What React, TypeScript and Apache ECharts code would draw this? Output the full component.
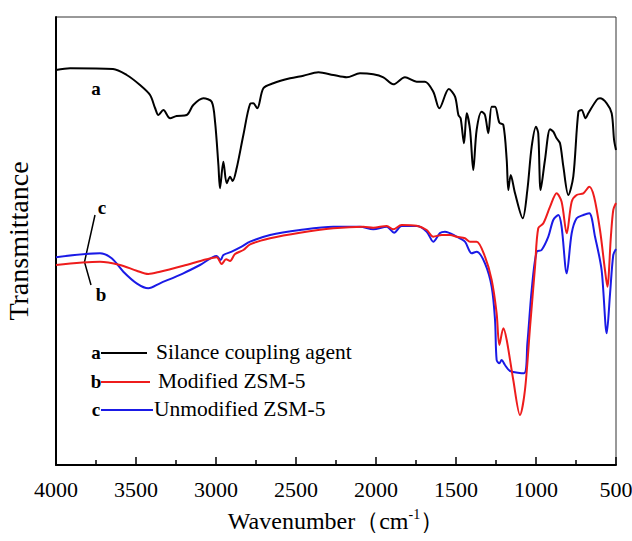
import React, { useEffect, useRef } from "react";
import * as echarts from "echarts";

// Wavenumber (cm-1) and transmittance (arbitrary units)
const aWavenumber = [4000, 3912, 3644, 3558, 3475, 3412, 3381, 3360, 3329, 3287, 3246, 3183, 3142, 3079, 3027, 3006, 2985, 2975, 2954, 2933, 2912, 2896, 2871, 2829, 2787, 2767, 2742, 2704, 2642, 2537, 2454, 2360, 2267, 2183, 2100, 2017, 1954, 1892, 1819, 1746, 1694, 1642, 1604, 1545, 1506, 1485, 1471, 1450, 1433, 1412, 1392, 1371, 1340, 1319, 1298, 1277, 1256, 1229, 1204, 1183, 1173, 1158, 1131, 1083, 1054, 1027, 1000, 986, 971, 944, 912, 892, 871, 850, 829, 798, 767, 735, 715, 690, 673, 621, 600, 558, 527, 512, 500];
const aTransmittance = [395, 396.7, 396, 390, 380, 370, 357, 350, 355, 346.7, 349, 350, 360, 366.7, 363.3, 343.3, 300, 276.7, 303.3, 281.7, 288.3, 284, 296.7, 330, 361, 361.7, 356.7, 376.7, 381.7, 386.7, 389.3, 392.7, 390, 387.7, 391.7, 390.7, 387.7, 380.7, 387.7, 383.3, 383.3, 373.3, 356.7, 376, 368.3, 350, 346.7, 321.7, 351.7, 335, 295, 335, 353.3, 350, 331.7, 358.3, 358.3, 342.3, 340, 305, 275, 290, 271.7, 246.7, 275, 318.3, 338.3, 331.7, 275, 305, 335.7, 333.3, 326.7, 321.7, 298.3, 270, 288.3, 353.3, 355, 346.7, 351.7, 365, 366.7, 361.7, 351.7, 325, 315];

const bWavenumber = [4000, 3725, 3600, 3496, 3423, 3350, 3204, 3058, 2996, 2965, 2937, 2912, 2881, 2829, 2787, 2662, 2475, 2267, 2079, 2017, 1933, 1892, 1840, 1746, 1683, 1642, 1589, 1537, 1496, 1444, 1412, 1371, 1319, 1277, 1246, 1229, 1204, 1183, 1142, 1100, 1069, 1037, 1006, 986, 954, 912, 871, 840, 808, 777, 746, 704, 667, 637, 600, 569, 554, 532, 517, 500];
const bTransmittance = [200, 203.3, 200, 194.3, 191, 193.3, 199.3, 205.7, 207.7, 201, 205.7, 204, 211, 215, 220.7, 226.7, 232.3, 236.7, 238.3, 237.3, 239, 235.7, 240, 239.3, 235, 228.3, 230, 230, 228.3, 226.7, 223.3, 223.3, 208.3, 185, 151.7, 120, 136.7, 125, 85, 50, 75, 138.3, 198.3, 236.7, 241.7, 258.3, 271.7, 263.3, 231.7, 263.3, 270, 271.7, 278.3, 268.3, 235, 195, 178.3, 228.3, 255, 262];

const cWavenumber = [4000, 3725, 3652, 3579, 3496, 3423, 3350, 3204, 3100, 2996, 2971, 2954, 2902, 2840, 2787, 2662, 2475, 2267, 2100, 2017, 1933, 1887, 1840, 1746, 1683, 1642, 1600, 1569, 1496, 1444, 1402, 1371, 1319, 1277, 1256, 1246, 1229, 1215, 1194, 1162, 1075, 1054, 1027, 996, 965, 923, 892, 860, 840, 808, 777, 746, 704, 667, 631, 590, 558, 537, 517, 500];
const cTransmittance = [207.7, 211.7, 206.7, 193.3, 181.7, 176.7, 181.7, 191.7, 200, 209, 205, 210, 213.3, 218.3, 223.3, 230, 235, 238.3, 238.3, 235.7, 238.3, 232.3, 239, 239, 233.3, 223.3, 232, 233.3, 228.3, 223.3, 211.7, 213.3, 201.7, 178.3, 145, 105, 101.7, 105, 100, 94, 91.7, 121.7, 175, 213.3, 215, 228.3, 245, 250, 238.3, 191.7, 231.7, 246.7, 250, 251.7, 228.3, 195, 131.7, 171.7, 210, 216];

const legendLetters = ["a", "b", "c"];
const legendNames = ["Silance coupling agent", "Modified ZSM-5", "Unmodified ZSM-5"];
const seriesColors = ["#000000", "#ee1c1c", "#1a1ae6"];

const xTickValues = [4000, 3500, 3000, 2500, 2000, 1500, 1000, 500];

const FONT = "Liberation Serif";

function pairs(xs: number[], ys: number[]) {
  return xs.map((x, i) => [x, ys[i]]);
}

export default function App() {
  const ref = useRef<HTMLDivElement>(null);
  useEffect(() => {
    if (!ref.current) return;
    const chart = echarts.init(ref.current, null, { renderer: "svg" });
    const data = [
      pairs(aWavenumber, aTransmittance),
      pairs(bWavenumber, bTransmittance),
      pairs(cWavenumber, cTransmittance),
    ];
    const legendY = [352, 381, 409];
    const legendTextX = [156, 158, 154];
    const legendLineEnd = [147, 150, 153];
    const graphic: any[] = [];
    legendLetters.forEach((l, i) => {
      graphic.push({
        type: "text",
        x: 96,
        y: legendY[i],
        style: { text: l, fontFamily: FONT, fontWeight: "bold", fontSize: 19, fill: "#000", align: "center", verticalAlign: "middle" },
      });
      graphic.push({
        type: "line",
        shape: { x1: 101, y1: legendY[i] + 1, x2: legendLineEnd[i], y2: legendY[i] + 1 },
        style: { stroke: seriesColors[i], lineWidth: 2 },
      });
      graphic.push({
        type: "text",
        x: legendTextX[i],
        y: legendY[i],
        style: { text: legendNames[i], fontFamily: FONT, fontSize: 21.5, fill: "#000", align: "left", verticalAlign: "middle" },
      });
    });
    // curve labels
    const lab = (t: string, x: number, y: number) => ({
      type: "text", x, y,
      style: { text: t, fontFamily: FONT, fontWeight: "bold", fontSize: 19, fill: "#000", align: "center", verticalAlign: "middle" },
    });
    graphic.push(lab("a", 96, 88));
    graphic.push(lab("c", 102, 207));
    graphic.push(lab("b", 101, 294));
    graphic.push({ type: "polyline", shape: { points: [[95, 215], [84.5, 262], [91, 285]] }, style: { stroke: "#000", lineWidth: 1.5, fill: "none" } });

    chart.setOption({
      animation: false,
      textStyle: { fontFamily: FONT },
      grid: {
        left: 56, right: 16, top: 17, bottom: 76,
        containLabel: false,
        outerBoundsMode: "none",
        show: true, borderColor: "#333", borderWidth: 1, backgroundColor: "transparent",
      },
      xAxis: {
        type: "value",
        min: 500,
        max: 4000,
        interval: 500,
        inverse: true,
        name: "{t|Wavenumber（cm}{s|-1}{t|）}",
        nameLocation: "middle",
        nameGap: 42,
        nameTextStyle: {
          verticalAlign: "top",
          rich: {
            t: { fontFamily: FONT, fontSize: 24, color: "#000", lineHeight: 28 },
            s: { fontFamily: FONT, fontSize: 14, color: "#000", lineHeight: 28, padding: [0, 0, 14, 0] },
          },
        },
        axisLine: { lineStyle: { color: "#000", width: 2 } },
        axisTick: { inside: true, length: 8, lineStyle: { color: "#000", width: 1.5 } },
        minorTick: { show: true, splitNumber: 2, length: 5, lineStyle: { color: "#000", width: 1.5 } },
        splitLine: { show: false },
        axisLabel: {
          fontFamily: FONT,
          fontSize: 22,
          color: "#000",
          margin: 13,
          customValues: xTickValues,
          formatter: (v: number) => String(v),
        },
      },
      yAxis: {
        type: "value",
        min: 0,
        max: 448,
        name: "Transmittance",
        nameLocation: "middle",
        nameGap: 24,
        nameTextStyle: { fontFamily: FONT, fontSize: 28, color: "#000" },
        axisLine: { show: true, lineStyle: { color: "#000", width: 2 } },
        axisTick: { show: false },
        axisLabel: { show: false },
        splitLine: { show: false },
      },
      series: data.map((d, i) => ({
        type: "line",
        data: d,
        showSymbol: false,
        smooth: 0.3,
        lineStyle: { color: seriesColors[i], width: 2 },
        z: 3 - i,
      })),
      graphic,
    });
    return () => chart.dispose();
  }, []);
  return <div ref={ref} style={{ position: "absolute", left: 0, top: 0, width: 632, height: 541 }} />;
}
